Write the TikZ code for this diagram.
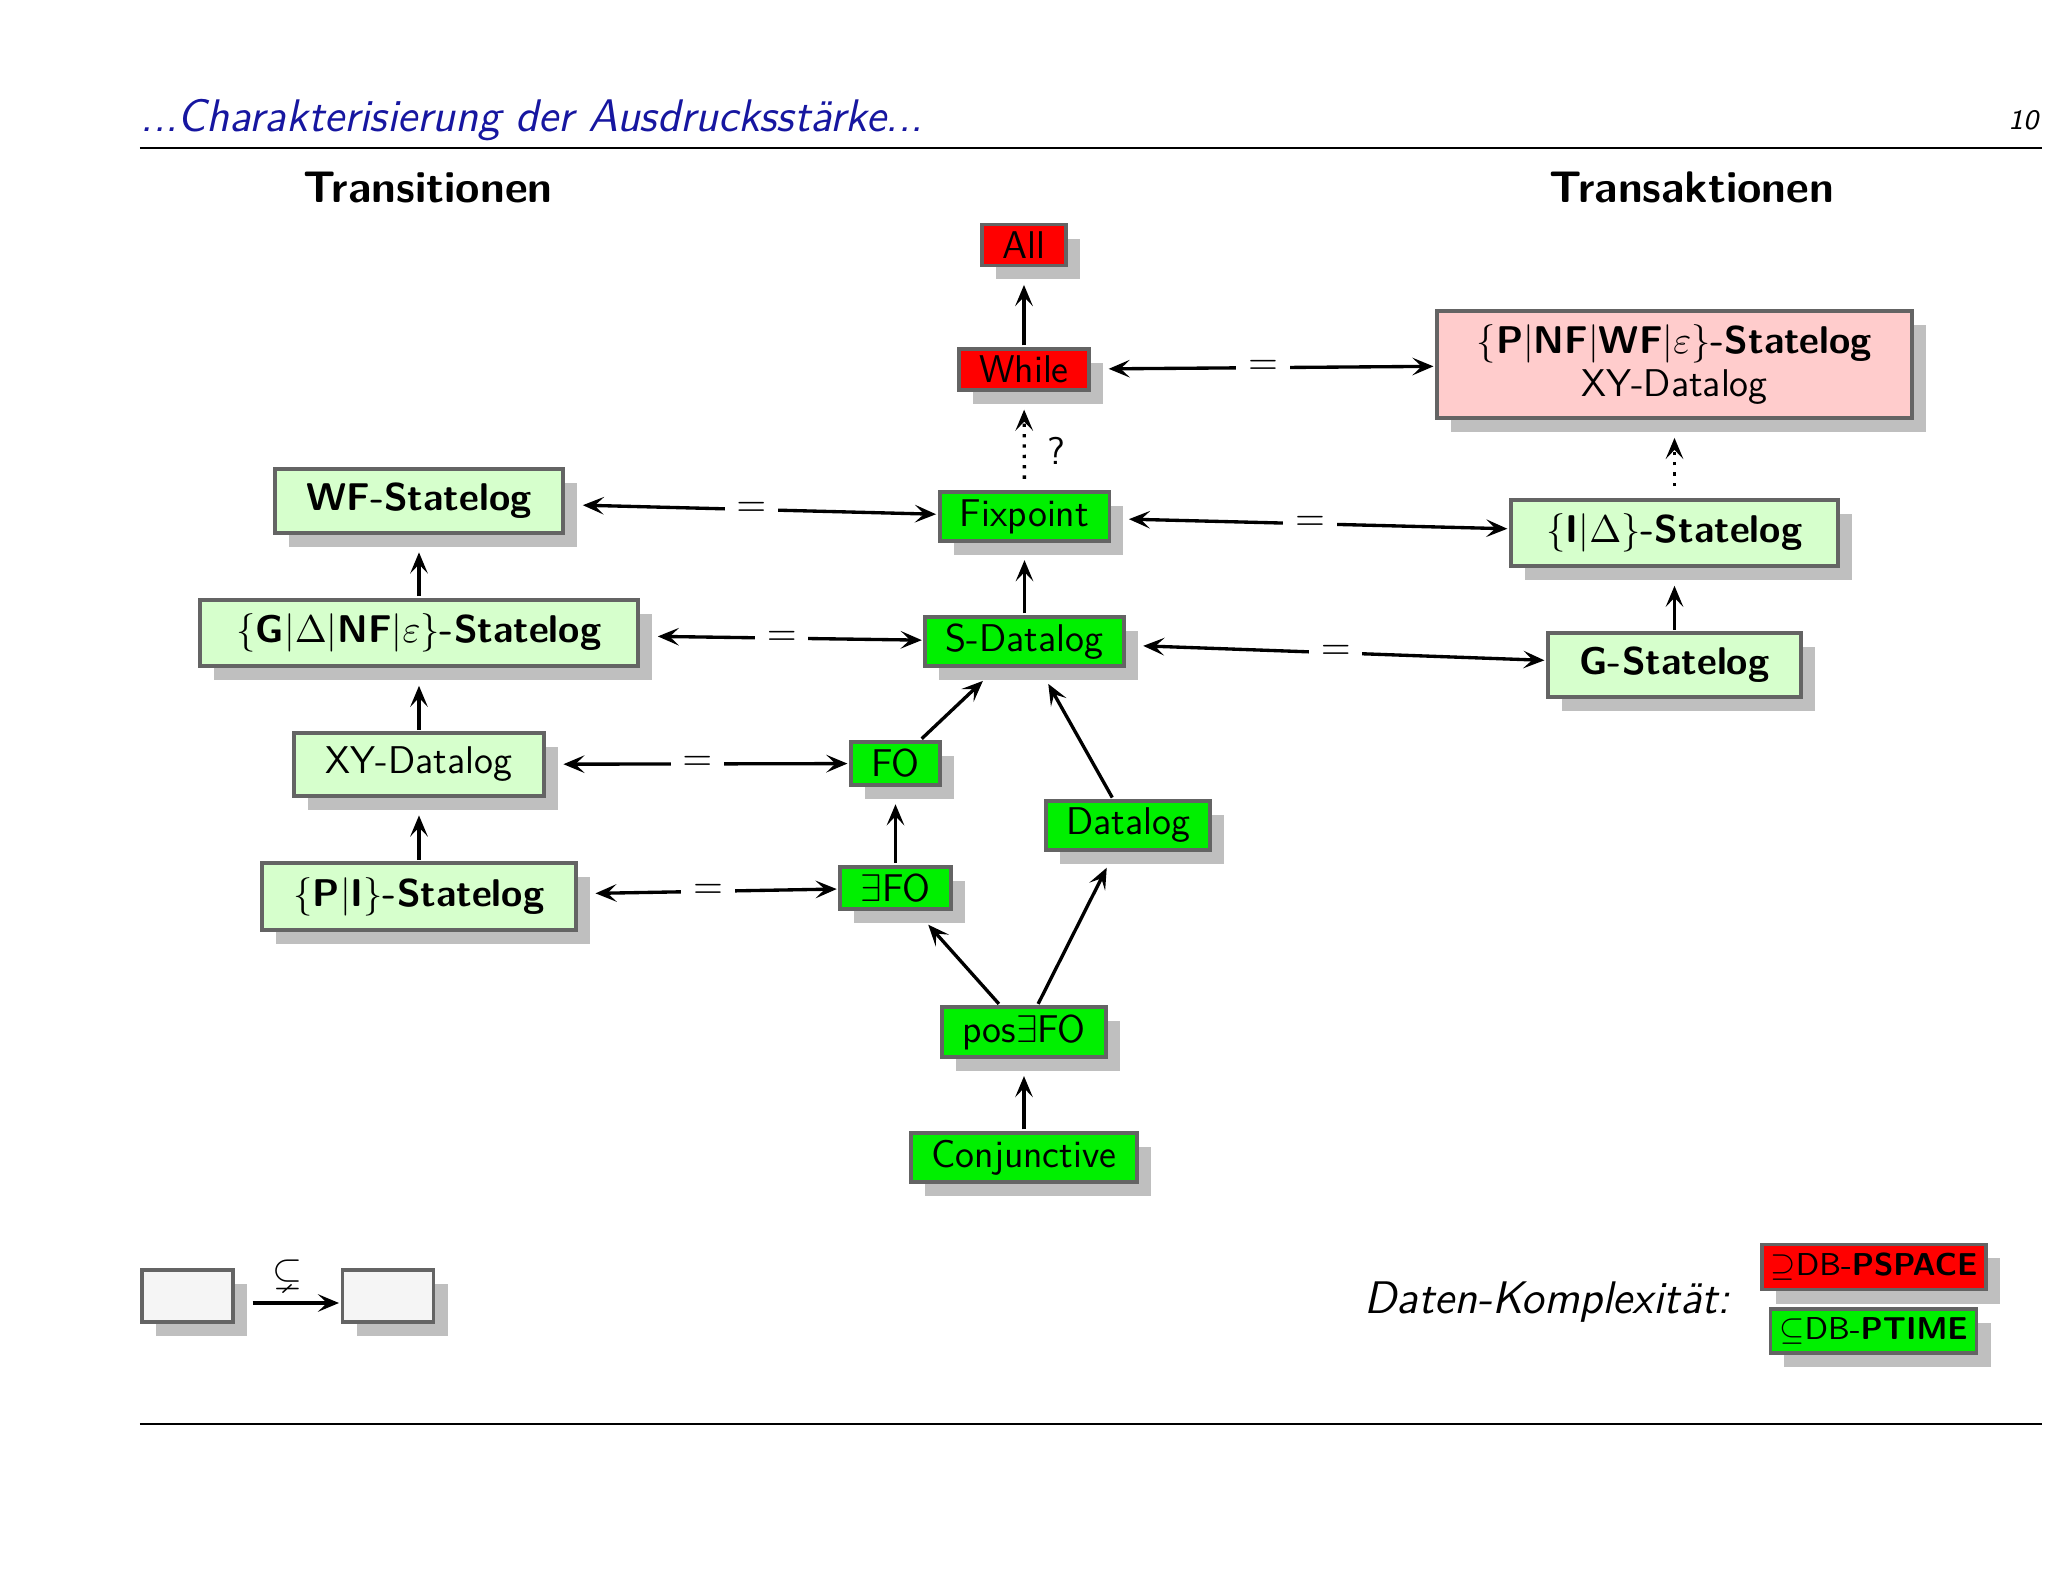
\documentclass[tikz,border=0pt]{standalone}
\usepackage{amssymb}
\usetikzlibrary{arrows.meta,shadows}
\renewcommand{\familydefault}{\sfdefault}
\definecolor{hardred}{RGB}{255,0,0}
\definecolor{ptimegreen}{RGB}{0,240,0}
\definecolor{translight}{RGB}{214,255,204}
\definecolor{transpink}{RGB}{255,204,204}
\definecolor{boxline}{RGB}{100,100,100}
\definecolor{legendgrey}{RGB}{245,245,245}
\definecolor{headblue}{RGB}{22,22,160}
\begin{document}
\begin{tikzpicture}[>={Stealth[length=6pt,width=5pt,inset=2.6pt]},
    box/.style={draw=boxline,line width=1.1pt,rectangle,inner xsep=5.8pt,inner ysep=2pt,outer sep=1pt,
      font=\fontsize{11}{12.2}\selectfont,
      drop shadow={shadow xshift=.14cm,shadow yshift=-.14cm,fill=black!25,opacity=1}},
    pspace/.style={box,fill=hardred},
    ptime/.style={box,fill=ptimegreen},
    trans/.style={box,fill=translight,inner xsep=9pt,inner ysep=4pt},
    upto/.style={line width=.95pt,->,shorten >=.16cm},
    maybe/.style={upto,dotted,shorten <=.1cm},
    eqv/.style={line width=.95pt,<->,shorten <=.16cm},
    eqsign/.style={midway,fill=white,font=\fontsize{11}{12.2}\selectfont}]
    \useasboundingbox (0,0) rectangle (20.48,-15.82);
    %% Head of the slide
    \node[font=\fontsize{13}{15}\selectfont\itshape,text=headblue,anchor=base west,inner sep=0pt] (title) at (1.40,-1.317) {...Charakterisierung der Ausdrucksstärke...};
    \node[font=\fontsize{8}{10}\selectfont\itshape,anchor=base east,inner sep=0pt] (page) at (20.39,-1.30) {10};
    \draw[line width=.75pt] (1.40,-1.48) -- (20.42,-1.48);
    \draw[line width=.75pt] (1.40,-14.24) -- (20.42,-14.24);
    \node[font=\fontsize{12.6}{14}\selectfont\bfseries,anchor=base] (transitions) at (4.28,-2.03) {Transitionen};
    \node[font=\fontsize{12.6}{14}\selectfont\bfseries,anchor=base] (transactions) at (16.92,-2.03) {Transaktionen};
    %% PSPACE
    \node[pspace] (all) at (10.24,-2.45) {All};
    \node[pspace] (while) at (10.24,-3.695) {While};
    \node[box,fill=transpink,inner ysep=4pt,align=center,minimum width=4.75cm] (pnwf) at (16.745,-3.645) {$\{\textbf{P}|\textbf{NF}|\textbf{WF}|\varepsilon\}$\textbf{-Statelog}\\XY-Datalog};
    %% PTIME
    \node[ptime] (fixpoint) at (10.245,-5.165) {Fixpoint};
    \node[ptime] (sdatalog) at (10.245,-6.416) {S-Datalog};
    \node[ptime] (fo) at (8.955,-7.635) {FO};
    \node[ptime] (efo) at (8.955,-8.88) {$\exists$FO};
    \node[ptime] (datalog) at (11.28,-8.255) {Datalog};
    \node[ptime] (posefo) at (10.24,-10.32) {pos$\exists$FO};
    \node[ptime] (conj) at (10.24,-11.575) {Conjunctive};
    %% Statelog
    \node[trans] (wf) at (4.19,-5.01) {\textbf{WF-Statelog}};
    \node[trans,inner xsep=10.5pt] (gdnf) at (4.19,-6.33) {$\{\textbf{G}|\Delta|\textbf{NF}|\varepsilon\}$\textbf{-Statelog}};
    \node[trans] (xy) at (4.19,-7.645) {XY-Datalog};
    \node[trans] (pi) at (4.19,-8.965) {$\{\textbf{P}|\textbf{I}\}$\textbf{-Statelog}};
    \node[trans,inner xsep=10.2pt] (idelta) at (16.745,-5.33) {$\{\textbf{I}|\Delta\}$\textbf{-Statelog}};
    \node[trans] (gstate) at (16.745,-6.65) {\textbf{G-Statelog}};
    %% Inclusions
    \draw[upto] (while) -- (all);
    \draw[maybe] (fixpoint) -- (while) node[midway,right,xshift=.1cm,yshift=-.1cm,font=\fontsize{11}{12.2}\selectfont] {?};
    \draw[upto] (sdatalog) -- (fixpoint);
    \draw[upto] (fo) -- (sdatalog);
    \draw[upto] (datalog) -- (sdatalog);
    \draw[upto] (efo) -- (fo);
    \draw[upto] (posefo) -- (efo);
    \draw[upto] (posefo) -- (datalog);
    \draw[upto] (conj) -- (posefo);
    \draw[upto] (gdnf) -- (wf);
    \draw[upto] (xy) -- (gdnf);
    \draw[upto] (pi) -- (xy);
    \draw[upto] (gstate) -- (idelta);
    \draw[maybe] (idelta) -- (pnwf);
    %% Equivalences
    \draw[eqv] (while) -- (pnwf) node[eqsign] {$=$};
    \draw[eqv] (wf) -- (fixpoint) node[eqsign] {$=$};
    \draw[eqv] (fixpoint) -- (idelta) node[eqsign] {$=$};
    \draw[eqv] (gdnf) -- (sdatalog) node[eqsign] {$=$};
    \draw[eqv] (sdatalog) -- (gstate) node[eqsign] {$=$};
    \draw[eqv] (xy) -- (fo) node[eqsign] {$=$};
    \draw[eqv] (pi) -- (efo) node[eqsign] {$=$};
    %% Legend
    \node[box,fill=legendgrey,minimum width=.91cm,minimum height=.52cm] (lower) at (1.875,-12.96) {};
    \node[box,fill=legendgrey,minimum width=.91cm,minimum height=.52cm] (upper) at (3.88,-12.96) {};
    \draw[line width=.95pt,->,shorten <=.16cm] ([yshift=-.07cm]lower.east) -- ([yshift=-.07cm]upper.west) node[midway,above,font=\fontsize{11}{12.2}\selectfont] {$\subsetneq$};
    \node[font=\fontsize{13}{15}\selectfont\itshape,anchor=base west,inner sep=0pt] (complexity) at (13.64,-13.13) {Daten-Komplexität:};
    \node[pspace,font=\fontsize{9}{11}\selectfont,inner xsep=2.5pt,inner ysep=2.5pt] (pspacekey) at (18.74,-12.67) {$\supseteq$DB-\textbf{PSPACE}};
    \node[ptime,font=\fontsize{9}{11}\selectfont,inner xsep=2.5pt,inner ysep=2.5pt] (ptimekey) at (18.735,-13.31) {$\subseteq$DB-\textbf{PTIME}};
\end{tikzpicture}
\end{document}
